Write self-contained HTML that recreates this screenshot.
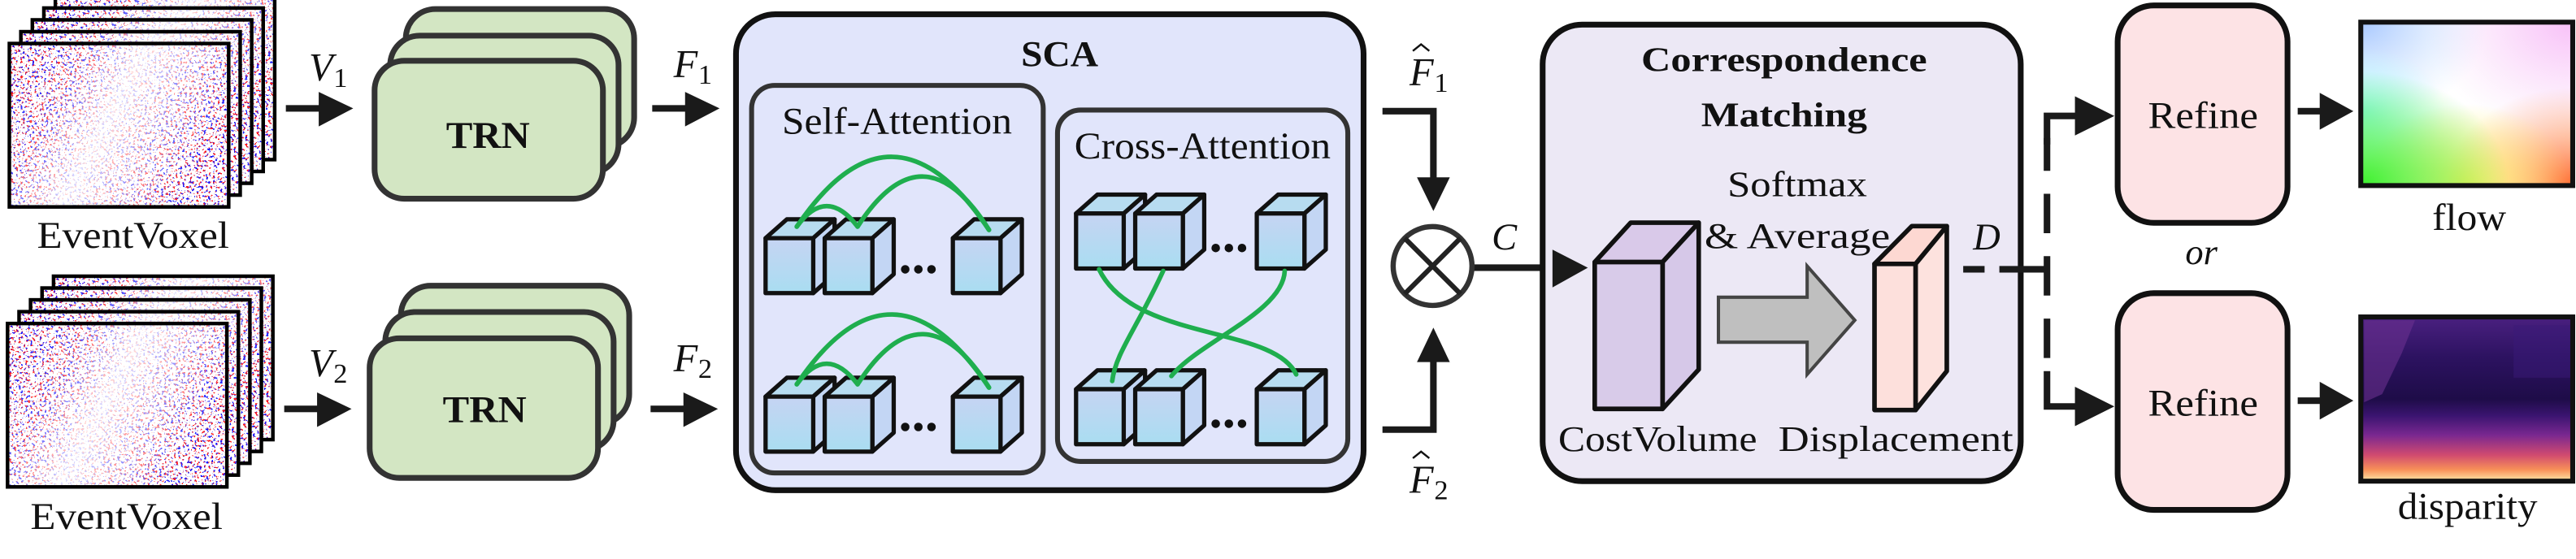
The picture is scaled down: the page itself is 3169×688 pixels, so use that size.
<!DOCTYPE html>
<html><head><meta charset="utf-8"><style>
html,body{margin:0;padding:0;background:#fff;}
svg{display:block;}
</style></head><body>
<svg width="3169" height="688" viewBox="0 0 1568 340.4" preserveAspectRatio="none" xmlns="http://www.w3.org/2000/svg" font-family="'Liberation Serif', 'Times New Roman', serif">
<defs>
<filter id="ev" x="0" y="0" width="1" height="1">
<feTurbulence type="fractalNoise" baseFrequency="0.7" numOctaves="2" seed="7" result="t"/>
<feColorMatrix in="t" type="matrix" values="1 0 0 0 0  0 0 0 0 0  -1 0 0 0 1  0 0 1 0 0" result="c"/>
<feComponentTransfer in="c" result="d"><feFuncR type="discrete" tableValues="0 0 1 1"/><feFuncB type="discrete" tableValues="0 0 1 1"/><feFuncA type="discrete" tableValues="0 0 0 1 1"/></feComponentTransfer>
<feComposite in="d" in2="SourceGraphic" operator="in"/>
</filter>
<linearGradient id="evG" x1="0" y1="0" x2="1" y2="0.4">
<stop offset="0" stop-color="#000" stop-opacity="1"/><stop offset="0.3" stop-color="#000" stop-opacity="0.7"/><stop offset="0.55" stop-color="#000" stop-opacity="0.15"/><stop offset="0.8" stop-color="#000" stop-opacity="0.5"/><stop offset="1" stop-color="#000" stop-opacity="0.9"/>
</linearGradient>
<linearGradient id="cubeF" x1="0" y1="0" x2="0" y2="1"><stop offset="0" stop-color="#c6d4f3"/><stop offset="1" stop-color="#a9ddf1"/></linearGradient>
<g id="cube" stroke="#111" stroke-width="2.6" stroke-linejoin="round">
<polygon points="0,0 13,-11.5 42,-11.5 29,0" fill="#b7dcf0"/>
<polygon points="29,0 42,-11.5 42,22 29,33.5" fill="#c3d6f4"/>
<rect x="0" y="0" width="29" height="33.5" fill="url(#cubeF)"/>
</g>
<g id="fr"><rect x="0" y="0" width="133.5" height="99.5" fill="#fff"/><rect x="0" y="0" width="133.5" height="99.5" fill="url(#evG)" filter="url(#ev)"/><rect x="0" y="0" width="133.5" height="99.5" fill="none" stroke="#000" stroke-width="2.2"/></g>
<radialGradient id="gGreen" cx="0" cy="1" r="0.7"><stop offset="0" stop-color="#3af02a"/><stop offset="1" stop-color="#3af02a" stop-opacity="0"/></radialGradient>
<radialGradient id="gYel" cx="0.5" cy="1" r="0.5"><stop offset="0" stop-color="#fff06a"/><stop offset="1" stop-color="#fff06a" stop-opacity="0"/></radialGradient>
<radialGradient id="gOr" cx="1" cy="1" r="0.6"><stop offset="0" stop-color="#ff6a30"/><stop offset="1" stop-color="#ff9a60" stop-opacity="0"/></radialGradient>
<radialGradient id="gPink" cx="1" cy="0" r="0.7"><stop offset="0" stop-color="#f8c0f8"/><stop offset="1" stop-color="#f8d0f8" stop-opacity="0"/></radialGradient>
<radialGradient id="gBlue" cx="0" cy="0" r="0.6"><stop offset="0" stop-color="#a8c8ff"/><stop offset="1" stop-color="#c8e0ff" stop-opacity="0"/></radialGradient>
<radialGradient id="gCyan" cx="0" cy="0.55" r="0.4"><stop offset="0" stop-color="#9ff8ff"/><stop offset="1" stop-color="#c0ffff" stop-opacity="0"/></radialGradient>
<linearGradient id="disp" x1="0" y1="0" x2="0" y2="1">
<stop offset="0" stop-color="#4a2080"/><stop offset="0.25" stop-color="#2c1260"/><stop offset="0.5" stop-color="#1e0c48"/><stop offset="0.6" stop-color="#3a1470"/><stop offset="0.72" stop-color="#7a2890"/><stop offset="0.84" stop-color="#d04a70"/><stop offset="0.93" stop-color="#f89058"/><stop offset="1" stop-color="#fde8a8"/>
</linearGradient>
</defs>

<g transform="translate(5.7,26.5)">
<use href="#fr" transform="translate(28,-28.8)"/><use href="#fr" transform="translate(21,-21.6)"/><use href="#fr" transform="translate(14,-14.4)"/><use href="#fr" transform="translate(7,-7.2)"/><use href="#fr"/>
</g>
<g transform="translate(4.6,197)">
<use href="#fr" transform="translate(28,-28.8)"/><use href="#fr" transform="translate(21,-21.6)"/><use href="#fr" transform="translate(14,-14.4)"/><use href="#fr" transform="translate(7,-7.2)"/><use href="#fr"/>
</g>
<g fill="#111">
<text x="81" y="151" font-size="23" text-anchor="middle" textLength="117" lengthAdjust="spacingAndGlyphs">EventVoxel</text>
<text x="77" y="322" font-size="23" text-anchor="middle" textLength="117" lengthAdjust="spacingAndGlyphs">EventVoxel</text>
</g>

<g fill="#1a1a1a" stroke="none">
<rect x="174" y="64" width="22" height="4"/><polygon points="194,56 215,66 194,77"/>
<rect x="173" y="247" width="22" height="4"/><polygon points="193,239 214,249 193,260"/>
<rect x="397" y="64" width="22" height="4"/><polygon points="417,56 438,66 417,77"/>
<rect x="396" y="247" width="22" height="4"/><polygon points="416,239 437,249 416,260"/>
</g>
<g fill="#111">
<text x="188" y="49" font-size="24" font-style="italic">V</text><text x="203" y="53" font-size="17">1</text>
<text x="188" y="229" font-size="24" font-style="italic">V</text><text x="203" y="233" font-size="17">2</text>
<text x="410" y="47" font-size="24" font-style="italic">F</text><text x="425" y="51" font-size="17">1</text>
<text x="410" y="226" font-size="24" font-style="italic">F</text><text x="425" y="230" font-size="17">2</text>
</g>

<g fill="#d3e6c3" stroke="#333" stroke-width="3.5">
<rect x="247" y="5.5" width="139" height="84" rx="18"/>
<rect x="237.5" y="21.7" width="139" height="84" rx="18"/>
<rect x="228" y="37" width="139" height="84" rx="18"/>
<rect x="244" y="174" width="139" height="84" rx="18"/>
<rect x="234.5" y="190" width="139" height="84" rx="18"/>
<rect x="225" y="206" width="139" height="85" rx="18"/>
</g>
<g fill="#111">
<text x="297" y="90" font-size="23" font-weight="bold" text-anchor="middle" textLength="51" lengthAdjust="spacingAndGlyphs">TRN</text>
<text x="295" y="257" font-size="23" font-weight="bold" text-anchor="middle" textLength="51" lengthAdjust="spacingAndGlyphs">TRN</text>
</g>

<rect x="448" y="8.7" width="382" height="289.8" rx="24" fill="#e1e5fb" stroke="#111" stroke-width="3.5"/>
<rect x="457.5" y="52" width="177.5" height="236" rx="14" fill="#e1e5fb" stroke="#333" stroke-width="3"/>
<rect x="643.7" y="67" width="176.7" height="214" rx="14" fill="#e1e5fb" stroke="#333" stroke-width="3"/>
<g fill="#111">
<text x="645" y="40" font-size="22" font-weight="bold" text-anchor="middle" textLength="47" lengthAdjust="spacingAndGlyphs">SCA</text>
<text x="546" y="81.5" font-size="23" text-anchor="middle" textLength="140" lengthAdjust="spacingAndGlyphs">Self-Attention</text>
<text x="732" y="96.6" font-size="23" text-anchor="middle" textLength="156" lengthAdjust="spacingAndGlyphs">Cross-Attention</text>
</g>

<use href="#cube" x="466" y="145"/><use href="#cube" x="502" y="145"/><use href="#cube" x="580" y="145"/>
<use href="#cube" x="466" y="241.5"/><use href="#cube" x="502" y="241.5"/><use href="#cube" x="580" y="241.5"/>
<use href="#cube" x="655" y="130"/><use href="#cube" x="691" y="130"/><use href="#cube" x="765" y="130"/>
<use href="#cube" x="655" y="237"/><use href="#cube" x="691" y="237"/><use href="#cube" x="765" y="237"/>
<g fill="#111">
<circle cx="551" cy="164" r="2.6"/><circle cx="559" cy="164" r="2.6"/><circle cx="567" cy="164" r="2.6"/>
<circle cx="551" cy="260" r="2.6"/><circle cx="559" cy="260" r="2.6"/><circle cx="567" cy="260" r="2.6"/>
<circle cx="740" cy="151" r="2.6"/><circle cx="748" cy="151" r="2.6"/><circle cx="756" cy="151" r="2.6"/>
<circle cx="740" cy="258" r="2.6"/><circle cx="748" cy="258" r="2.6"/><circle cx="756" cy="258" r="2.6"/>
</g>
<g fill="none" stroke="#1fae4e" stroke-width="2.8" stroke-linecap="round">
<path d="M485,138 Q543,52 602,140"/><path d="M485,138 Q503,113 522,138"/><path d="M522,138 Q562,76 602,140"/>
<path d="M485,234 Q543,148 602,236"/><path d="M485,234 Q503,209 522,234"/><path d="M522,234 Q562,172 602,236"/>
<path d="M669,164 C690,208 775,198 789,228"/>
<path d="M708,165 C692,200 679,215 677,232"/>
<path d="M782,165 C781,190 730,208 713,229"/>
</g>

<g fill="none" stroke="#1a1a1a" stroke-width="4">
<polyline points="841.5,67.7 872.5,67.7 872.5,110"/>
<polyline points="841.5,261.6 872.5,261.6 872.5,218"/>
<line x1="896" y1="163" x2="948" y2="163"/>
</g>
<g fill="#1a1a1a">
<polygon points="862.5,108 882.5,108 872.5,128.5"/>
<polygon points="862.5,220.5 882.5,220.5 872.5,199.5"/>
</g>
<circle cx="872" cy="162" r="24" fill="none" stroke="#333" stroke-width="3.2"/>
<line x1="855" y1="145" x2="889" y2="179" stroke="#222" stroke-width="3"/>
<line x1="889" y1="145" x2="855" y2="179" stroke="#222" stroke-width="3"/>
<g fill="#111">
<text x="858" y="52" font-size="24" font-style="italic">F</text><text x="873" y="56" font-size="17">1</text>
<text x="858" y="300" font-size="24" font-style="italic">F</text><text x="873" y="304" font-size="17">2</text>
<text x="908" y="152" font-size="23" font-style="italic">C</text>
</g>
<path d="M860,31 L865,27 L870,31" fill="none" stroke="#111" stroke-width="1.2"/>
<path d="M860,279 L865,275 L870,279" fill="none" stroke="#111" stroke-width="1.2"/>

<rect x="939" y="15" width="291" height="278" rx="24" fill="#ece8f5" stroke="#111" stroke-width="3.5"/>
<polygon points="945,152 966.5,163 945,175" fill="#1a1a1a"/>
<g fill="#111">
<text x="1086" y="43.4" font-size="21" font-weight="bold" text-anchor="middle" textLength="174" lengthAdjust="spacingAndGlyphs">Correspondence</text>
<text x="1086" y="77" font-size="21" font-weight="bold" text-anchor="middle" textLength="101" lengthAdjust="spacingAndGlyphs">Matching</text>
<text x="1094" y="119.4" font-size="22" text-anchor="middle" textLength="85" lengthAdjust="spacingAndGlyphs">Softmax</text>
<text x="1094" y="151" font-size="22" text-anchor="middle" textLength="113" lengthAdjust="spacingAndGlyphs">&amp; Average</text>
</g>
<g stroke="#111" stroke-width="2.8" stroke-linejoin="round">
<polygon points="970.7,159.6 992.6,135.6 1034,135.6 1012,159.6" fill="#d9c9e9"/>
<polygon points="1012,159.6 1034,135.6 1034,225 1012,249" fill="#d6c8e8"/>
<rect x="970.7" y="159.6" width="41.3" height="89.4" fill="#d8cbe9"/>
<polygon points="1141,160.7 1163.7,137.7 1185,137.7 1166,160.7" fill="#fdd8d2"/>
<polygon points="1166,160.7 1185,137.7 1185,226 1166,249.7" fill="#fde2de"/>
<rect x="1141" y="160.7" width="25" height="89" fill="#fde0dc"/>
</g>
<polygon points="1046,181 1100,181 1100,162 1129,195 1100,228 1100,208.4 1046,208.4" fill="#bfbfbf" stroke="#444" stroke-width="2"/>
<g fill="#111">
<text x="1009" y="274.6" font-size="22" text-anchor="middle" textLength="121" lengthAdjust="spacingAndGlyphs">CostVolume</text>
<text x="1154" y="274.6" font-size="22" text-anchor="middle" textLength="143" lengthAdjust="spacingAndGlyphs">Displacement</text>
<text x="1201" y="152" font-size="23" font-style="italic">D</text>
</g>

<g stroke="#1a1a1a" stroke-width="4" fill="none">
<path d="M1195,164 h13 M1217,164 h29" />
<path d="M1246,84 v20 M1246,118 v24 M1246,156 v24 M1246,194 v24"/>
<polyline points="1246,88 1246,70.6 1266,70.6"/>
<polyline points="1246,226 1246,247.5 1266,247.5"/>
</g>
<g fill="#1a1a1a">
<polygon points="1263,58.6 1287,70.6 1263,82.5"/>
<polygon points="1263,235.5 1287,247.5 1263,259.5"/>
</g>

<rect x="1289" y="3.3" width="103.4" height="132.4" rx="22" fill="#fde3e5" stroke="#111" stroke-width="3.5"/>
<rect x="1289" y="178.5" width="103.4" height="132" rx="22" fill="#fde3e5" stroke="#111" stroke-width="3.5"/>
<g fill="#111">
<text x="1341" y="78" font-size="23" text-anchor="middle" textLength="67" lengthAdjust="spacingAndGlyphs">Refine</text>
<text x="1341" y="253" font-size="23" text-anchor="middle" textLength="67" lengthAdjust="spacingAndGlyphs">Refine</text>
<text x="1340" y="160.7" font-size="22" font-style="italic" text-anchor="middle">or</text>
</g>
<g fill="#1a1a1a">
<rect x="1398.6" y="65.7" width="16" height="4"/><polygon points="1412,56.5 1432.5,67.7 1412,79"/>
<rect x="1398.6" y="242" width="16" height="4"/><polygon points="1412,232.5 1432.5,244 1412,255.5"/>
</g>

<g>
<rect x="1437" y="13.5" width="129" height="99.5" fill="#fff"/>
<rect x="1437" y="13.5" width="129" height="99.5" fill="url(#gPink)"/>
<rect x="1437" y="13.5" width="129" height="99.5" fill="url(#gBlue)"/>
<rect x="1437" y="13.5" width="129" height="99.5" fill="url(#gCyan)"/>
<rect x="1437" y="13.5" width="129" height="99.5" fill="url(#gOr)"/>
<rect x="1437" y="13.5" width="129" height="99.5" fill="url(#gYel)"/>
<rect x="1437" y="13.5" width="129" height="99.5" fill="url(#gGreen)"/>
<rect x="1437" y="13.5" width="129" height="99.5" fill="none" stroke="#111" stroke-width="3"/>
</g>
<g>
<rect x="1437" y="193" width="129" height="100" fill="url(#disp)"/>
<path d="M1439,195 L1470,195 L1462,215 L1450,240 L1439,245 Z" fill="#6a3090" opacity="0.6"/>
<path d="M1530,198 L1565,198 L1565,230 L1530,230 Z" fill="#3a1a78" opacity="0.5"/>
<rect x="1437" y="193" width="129" height="100" fill="none" stroke="#111" stroke-width="3"/>
</g>
<g fill="#111">
<text x="1503" y="140" font-size="23" text-anchor="middle" textLength="45" lengthAdjust="spacingAndGlyphs">flow</text>
<text x="1502" y="316" font-size="23" text-anchor="middle" textLength="85" lengthAdjust="spacingAndGlyphs">disparity</text>
</g>
</svg>
</body></html>
